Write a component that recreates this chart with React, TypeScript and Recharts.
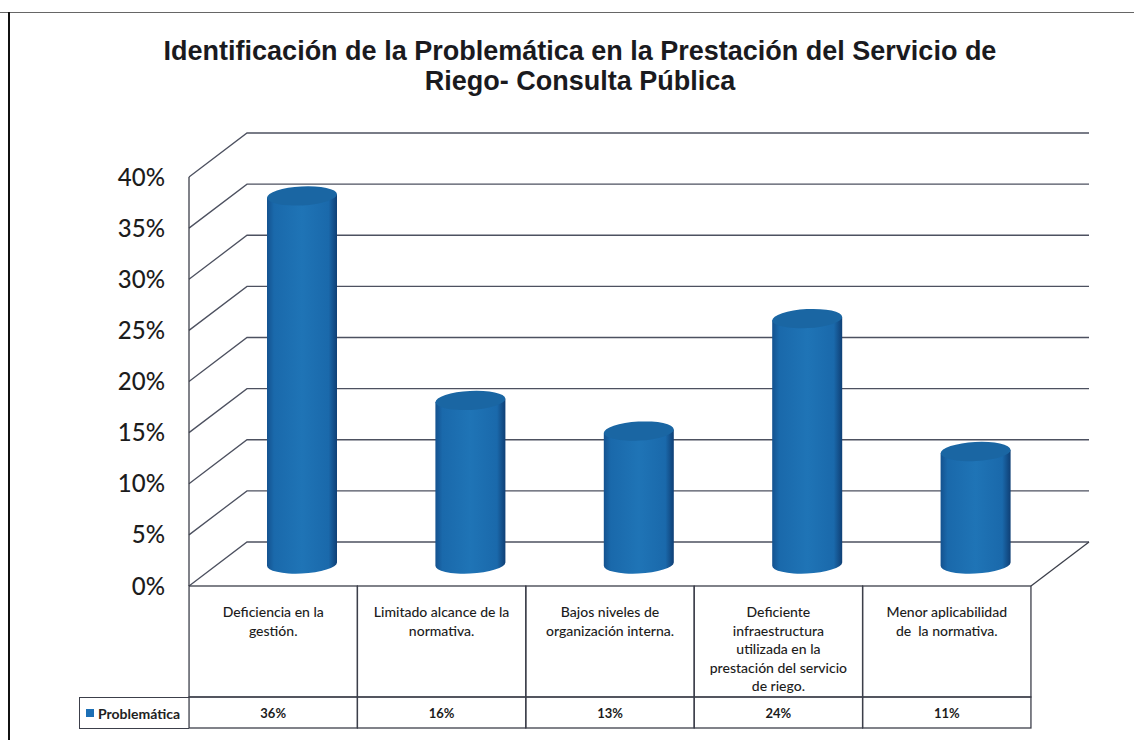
import { ComposedChart, Bar, XAxis, YAxis, CartesianGrid, Legend } from 'recharts'

const categories = [
  'Deficiencia en la\ngestión.',
  'Limitado alcance de la\nnormativa.',
  'Bajos niveles de\norganización interna.',
  'Deficiente\ninfraestructura\nutilizada en la\nprestación del servicio\nde riego.',
  'Menor aplicabilidad\nde  la normativa.',
]
const values = [36, 16, 13, 24, 11]
const yTicks = [0, 5, 10, 15, 20, 25, 30, 35, 40]
const seriesName = 'Problemática'
const titleLines = [
  'Identificación de la Problemática en la Prestación del Servicio de',
  'Riego- Consulta Pública',
]

const rows = categories.map((name, i) => ({ name, value: values[i] }))

const DEPTH_X = 58
const DEPTH_Y = 44
const LINE = '#3c3f4a'
const FONT = 'Lato, sans-serif'

// grid line: goes up the side wall, then along the back wall
function WallLine(p: any) {
  return (
    <polyline
      key={p.key ?? p.y1}
      points={`${p.x1},${p.y1} ${p.x1 + DEPTH_X},${p.y1 - DEPTH_Y} ${p.x2 + DEPTH_X},${p.y1 - DEPTH_Y}`}
      fill="none"
      stroke="#4d5160"
      strokeWidth={1.3}
    />
  )
}

// cylinder sits halfway into the floor, ends tilted a little like the scan
function Cylinder({ x, y, width, height }: any) {
  const rx = width / 2
  const ry = 9.5
  const tilt = 1.6
  const left = x + DEPTH_X / 2
  const right = left + width
  const cx = left + rx
  const top = y - DEPTH_Y / 2
  const bottom = y + height - DEPTH_Y / 2
  return (
    <g>
      <path
        d={`M${left},${top + tilt} L${left},${bottom + tilt} A${rx},${ry} -3 0 0 ${right},${bottom - tilt} L${right},${top - tilt} Z`}
        fill="url(#cyl)"
      />
      <ellipse cx={cx} cy={top} rx={rx} ry={ry} fill="#1a66a3" transform={`rotate(-3 ${cx} ${top})`} />
    </g>
  )
}

// data table cell under each category: label above, value below
function TableTick({ x, y, payload, index }: any) {
  const w = 168.3
  const left = x - w / 2
  const lines = String(payload.value).split('\n')
  return (
    <g>
      <rect x={left} y={y} width={w} height={111} fill="none" stroke={LINE} strokeWidth={1.3} />
      <rect x={left} y={y + 111} width={w} height={31} fill="none" stroke={LINE} strokeWidth={1.3} />
      {lines.map((t: string, i: number) => (
        <text key={i} x={x} y={y + 31 + i * 18.5} textAnchor="middle" fontSize={14} fontWeight={500} fill="#1c1c1c" fontFamily={FONT} xmlSpace="preserve">
          {t}
        </text>
      ))}
      <text x={x} y={y + 132} textAnchor="middle" fontSize={13} fontWeight={700} fill="#1c1c1c" fontFamily={FONT}>
        {values[index]}%
      </text>
    </g>
  )
}

function LegendCell() {
  return (
    <div
      style={{
        boxSizing: 'border-box', width: 110, height: 32, border: `1px solid ${LINE}`, borderRight: 'none',
        display: 'flex', alignItems: 'center', paddingLeft: 6, fontFamily: FONT, fontSize: 14, fontWeight: 700, color: '#222',
      }}
    >
      <span style={{ width: 8, height: 8, background: '#1c6fb5', marginRight: 4 }} />
      {seriesName}
    </div>
  )
}

export default function App() {
  return (
    <div style={{ position: 'absolute', left: 0, top: 0, width: 1134, height: 740, background: '#fff', overflow: 'hidden' }}>
      <div style={{ position: 'absolute', left: 0, right: 0, top: 12, height: 1, background: '#666' }} />
      <div style={{ position: 'absolute', left: 8, top: 12, bottom: 0, width: 2, background: '#111' }} />
      {titleLines.map((t, i) => (
        <div
          key={i}
          style={{
            position: 'absolute', left: 0, width: 1160, top: 36 + i * 30, textAlign: 'center', whiteSpace: 'nowrap',
            fontFamily: '"Liberation Sans", Arial, sans-serif', fontWeight: 700, fontSize: 27, color: '#1a1a1e',
          }}
        >
          {t}
        </div>
      ))}
      <ComposedChart
        width={1134}
        height={740}
        data={rows}
        margin={{ top: 177, right: 103, bottom: 12, left: 0 }}
        style={{ position: 'absolute', left: 0, top: 0 }}
      >
        <defs>
          <linearGradient id="cyl" x1="0" y1="0" x2="1" y2="0">
            <stop offset="0%" stopColor="#14528f" />
            <stop offset="10%" stopColor="#1a69ab" />
            <stop offset="50%" stopColor="#1f74b6" />
            <stop offset="88%" stopColor="#1a69ab" />
            <stop offset="100%" stopColor="#0f3f75" />
          </linearGradient>
        </defs>
        <CartesianGrid vertical={false} horizontal={WallLine} />
        {/* legend takes 32px of the 142px table, so the axis only asks for the rest */}
        <XAxis
          dataKey="name"
          height={110}
          interval={0}
          axisLine={false}
          tickLine={false}
          tickSize={0}
          tickMargin={0}
          tick={TableTick}
        />
        <YAxis
          domain={[0, 40]}
          ticks={yTicks}
          width={189}
          tickFormatter={(v: number) => `${v}%`}
          tickLine={false}
          tickMargin={18}
          axisLine={{ stroke: LINE, strokeWidth: 1.3 }}
          tick={{ fontFamily: FONT, fontSize: 24, fontWeight: 500, fill: '#1c1c1c' }}
        />
        <Legend
          content={LegendCell}
          wrapperStyle={{ left: 79, top: 697, bottom: 'auto', width: 110, height: 32 }}
        />
        <Bar dataKey="value" name={seriesName} barSize={70} shape={Cylinder} isAnimationActive={false} />
      </ComposedChart>
      <svg width={1134} height={740} style={{ position: 'absolute', left: 0, top: 0, pointerEvents: 'none' }}>
        <line x1={1031} y1={586} x2={1089} y2={542} stroke={LINE} strokeWidth={1.3} />
      </svg>
    </div>
  )
}
